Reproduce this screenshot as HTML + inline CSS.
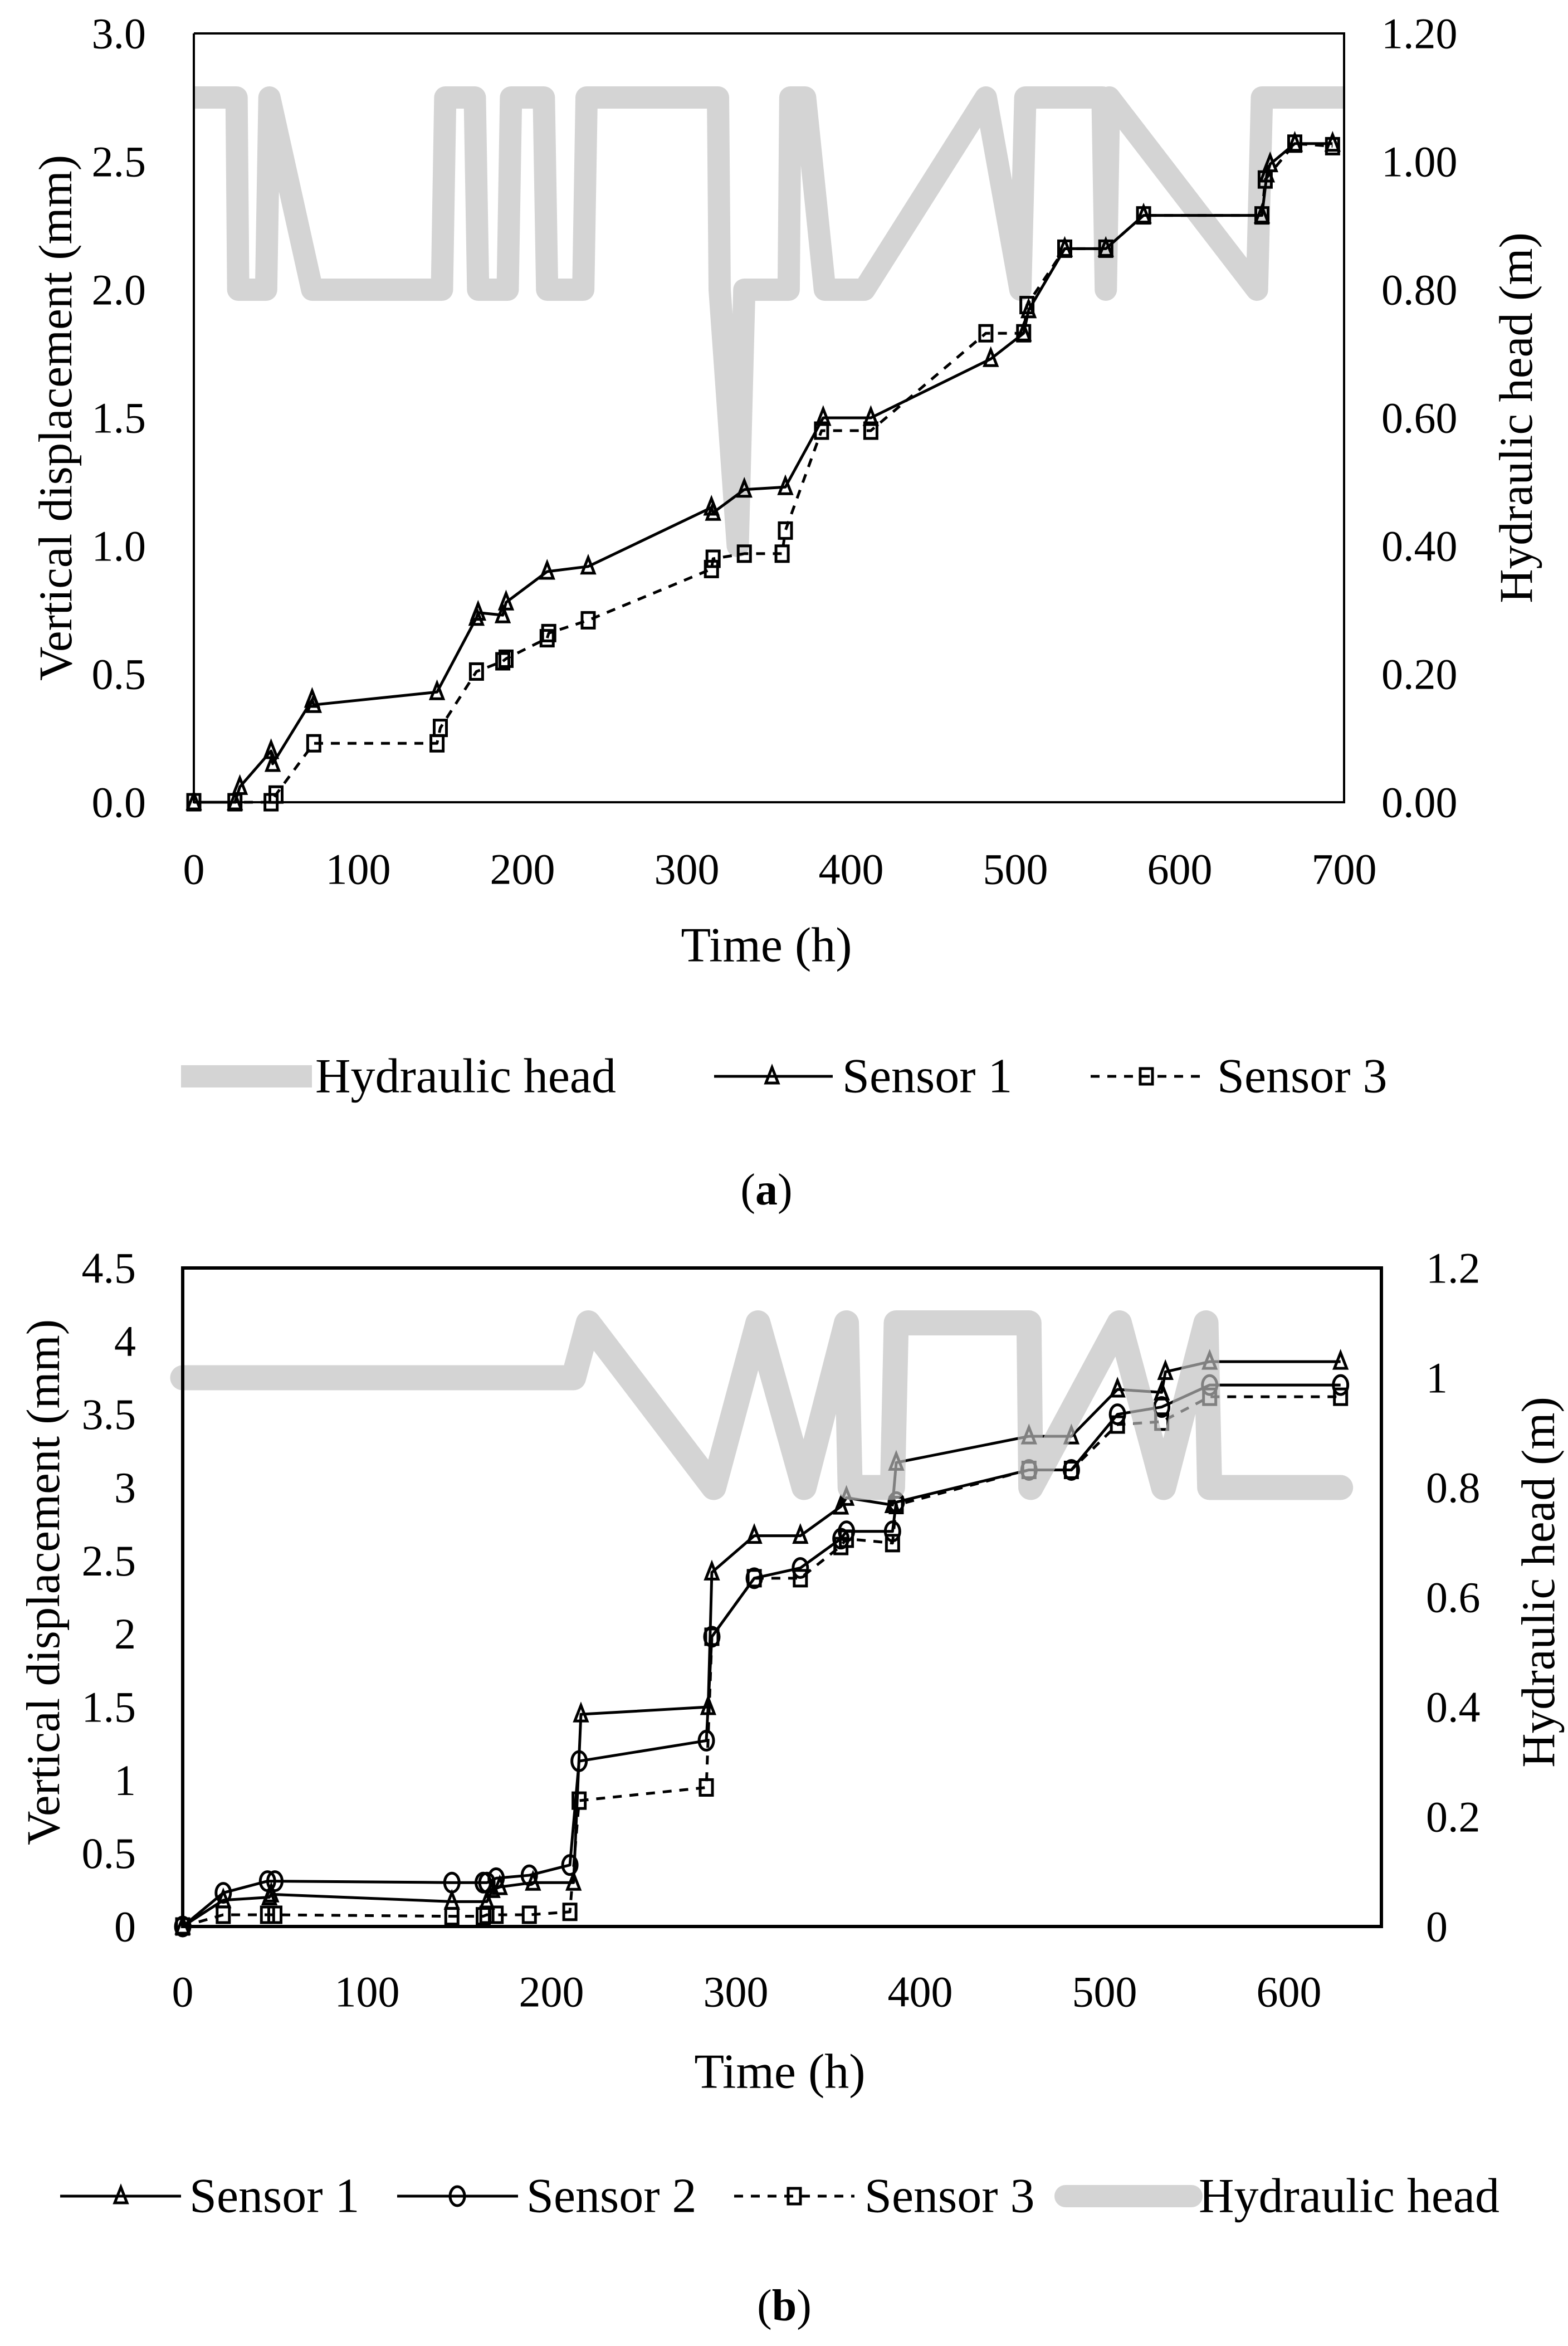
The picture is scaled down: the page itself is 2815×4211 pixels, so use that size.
<!DOCTYPE html>
<html><head><meta charset="utf-8">
<style>
html,body{margin:0;padding:0;background:#fff;}
svg{display:block;font-family:"Liberation Serif",serif;}
</style></head>
<body>
<svg id="fig" width="2815" height="4211" viewBox="0 0 2815 4211" xmlns="http://www.w3.org/2000/svg"></svg>
<script>
// ---------- Chart (a) data ----------
const aTicksX = [0,100,200,300,400,500,600,700];
const aTicksY = ["0.0","0.5","1.0","1.5","2.0","2.5","3.0"];
const aTicksY2 = ["0.00","0.20","0.40","0.60","0.80","1.00","1.20"];
const aS1t = [0,25,28,47,48,72,73,148,172,173,188,190,215,240,315,316,335,360,383,412,485,505,508,530,555,578,650,653,655,670,693];
const aS1v = [0,0,0.06,0.2,0.15,0.4,0.38,0.43,0.72,0.74,0.73,0.78,0.9,0.92,1.15,1.13,1.22,1.23,1.5,1.5,1.73,1.83,1.92,2.16,2.16,2.29,2.29,2.45,2.49,2.57,2.57];
const aS3t = [0,25,47,50,73,148,150,172,188,190,215,216,240,315,316,335,358,360,382,412,482,505,507,530,555,578,650,652,670,693];
const aS3v = [0,0,0,0.03,0.23,0.23,0.29,0.51,0.55,0.56,0.64,0.66,0.71,0.91,0.95,0.97,0.97,1.06,1.45,1.45,1.83,1.83,1.94,2.16,2.16,2.29,2.29,2.43,2.57,2.56];
const aHt = [0,26,27,44,46,72,151,153,171,173,191,193,213,215,237,239,319,320,331,335,362,363,372,384,408,482,503,506,553,555,557,647,650,700];
const aHv = [1.1,1.1,0.8,0.8,1.1,0.8,0.8,1.1,1.1,0.8,0.8,1.1,1.1,0.8,0.8,1.1,1.1,0.8,0.4,0.8,0.8,1.1,1.1,0.8,0.8,1.1,0.8,1.1,1.1,0.8,1.1,0.8,1.1,1.1];

// ---------- Chart (b) data ----------
const bTicksX = [0,100,200,300,400,500,600];
const bTicksY = ["0","0.5","1","1.5","2","2.5","3","3.5","4","4.5"];
const bTicksY2 = ["0","0.2","0.4","0.6","0.8","1","1.2"];
const bS1t = [0,22,47,48,146,165,168,172,190,212,216,285,287,310,335,357,360,385,387,459,482,507,531,533,557,628];
const bS1v = [0,0.18,0.2,0.22,0.17,0.17,0.25,0.27,0.3,0.3,1.45,1.5,2.42,2.67,2.67,2.87,2.93,2.88,3.17,3.35,3.35,3.67,3.65,3.79,3.86,3.86];
const bS2t = [0,22,46,50,146,163,165,170,188,210,215,284,287,310,335,357,360,385,387,459,482,507,531,557,628];
const bS2v = [0,0.23,0.31,0.31,0.3,0.3,0.3,0.33,0.35,0.42,1.13,1.27,1.98,2.38,2.45,2.65,2.7,2.7,2.9,3.12,3.12,3.5,3.55,3.7,3.7];
const bS3t = [0,22,46,50,146,163,165,170,188,210,215,284,287,310,335,357,360,385,387,459,482,507,531,557,628];
const bS3v = [0,0.08,0.08,0.08,0.07,0.07,0.08,0.08,0.08,0.1,0.86,0.95,1.98,2.38,2.38,2.6,2.65,2.62,2.88,3.12,3.12,3.43,3.45,3.62,3.62];
const bHt = [0,212,220,288,312,337,360,362,385,387,459,460,508,532,555,557,628];
const bHv = [1.0,1.0,1.1,0.8,1.1,0.8,1.1,0.8,0.8,1.1,1.1,0.8,1.1,0.8,1.1,0.8,0.8];

const NS = "http://www.w3.org/2000/svg";
const svg = document.getElementById("fig");
function mk(tag, attrs, parent){
  const e = document.createElementNS(NS, tag);
  for (const k in attrs) e.setAttribute(k, attrs[k]);
  (parent||svg).appendChild(e);
  return e;
}
function txt(s, x, y, size, anchor, parent, rot){
  const t = mk("text", {x:x, y:y, "font-size":size, "text-anchor":anchor||"middle", "dominant-baseline":"central", fill:"#000"}, parent);
  if (rot) t.setAttribute("transform", "rotate(" + rot + " " + x + " " + y + ")");
  t.textContent = s;
  return t;
}
function marker(type, x, y, g, color){
  const c = color || "#000";
  if (type === "tri"){
    const p = mk("polygon", {points:(x)+","+(y-16)+" "+(x-11)+","+(y+12)+" "+(x+11)+","+(y+12), fill:"none", stroke:c, "stroke-width":5}, g);
    
    
  } else if (type === "sq"){
    const r = mk("rect", {x:x-11, y:y-14, width:22, height:28, fill:"none", stroke:c, "stroke-width":5}, g);
    
    
  } else {
    const e = mk("ellipse", {cx:x, cy:y, rx:13, ry:17, fill:"none", stroke:c, "stroke-width":5}, g);
    
    
  }
}
function series(ts, vs, sx, sy, dash, mtype, name){
  const g = mk("g", {});
  
  
  const pts = ts.map((t,i)=>sx(t)+","+sy(vs[i])).join(" ");
  const pl = mk("polyline", {points:pts, fill:"none", stroke:"#000", "stroke-width":5, "stroke-dasharray":dash||"none", "stroke-linejoin":"round"}, g);
  
  
  ts.forEach((t,i)=>marker(mtype, sx(t), sy(vs[i]), g));
}
function head(ts, vs, sx, sy2, w, color, op, cap, name){
  const pts = ts.map((t,i)=>sx(t)+","+sy2(vs[i])).join(" ");
  const pl = mk("polyline", {points:pts, fill:"none", stroke:color, "stroke-opacity":op, "stroke-width":w, "stroke-linejoin":"round", "stroke-linecap":cap});
  
  
}

// ===== Chart (a) =====
(function(){
  const L=348, R=2413, T=60, B=1440;
  const sx = t => L + (R-L)*t/700;
  const sy = v => B - (B-T)*v/3.0;
  const sy2 = v => B - (B-T)*v/1.2;
  head(aHt, aHv, sx, sy2, 40, "#d4d4d4", 1, "butt", "hydraulic-head-line-a");
  series(aS3t, aS3v, sx, sy, "16,14", "sq", "sensor-3-series-a");
  series(aS1t, aS1v, sx, sy, null, "tri", "sensor-1-series-a");
  const box = mk("polyline", {points:L+","+T+" "+L+","+B+" "+R+","+B+" "+R+","+T+" "+L+","+T, fill:"none", stroke:"#000", "stroke-width":4});
  
  
  aTicksY.forEach((s,i)=>{ const t=txt(s, 262, sy(i*0.5), 78, "end");
    
     });
  aTicksY2.forEach((s,i)=>{ const t=txt(s, 2480, sy2(i*0.2), 78, "start");
    
     });
  aTicksX.forEach(v=>{ const t=txt(String(v), sx(v), 1560, 78, "middle");
    
     });
  let t;
  t = txt("Vertical displacement (mm)", 100, 750, 85, "middle", null, -90);
   
  t = txt("Hydraulic head (m)", 2722, 750, 85, "middle", null, -90);
   
  t = txt("Time (h)", 1376, 1697, 88, "middle");
   
  // legend
  const ly = 1932;
  const lg = mk("g", {});  
  mk("line", {x1:325, y1:ly, x2:560, y2:ly, stroke:"#d4d4d4", "stroke-width":40}, lg);
  txt("Hydraulic head", 566, ly, 88, "start", lg);
  mk("line", {x1:1282, y1:ly, x2:1495, y2:ly, stroke:"#000", "stroke-width":5}, lg);
  marker("tri", 1386, ly, lg);
  txt("Sensor 1", 1512, ly, 88, "start", lg);
  mk("line", {x1:1958, y1:ly, x2:2166, y2:ly, stroke:"#000", "stroke-width":5, "stroke-dasharray":"16,14"}, lg);
  marker("sq", 2058, ly, lg);
  txt("Sensor 3", 2185, ly, 88, "start", lg);
  const cap = mk("text", {x:1376, y:2136, "font-size":80, "text-anchor":"middle", "dominant-baseline":"central"});
  cap.innerHTML = '(<tspan font-weight="bold">a</tspan>)';
   
})();

// ===== Chart (b) =====
(function(){
  const L=328, R=2480, T=2276, B=3458;
  const X600 = 2314;
  const sx = t => L + (X600-L)*t/600;
  const sy = v => B - (B-T)*v/4.5;
  const sy2 = v => B - (B-T)*v/1.2;
  series(bS3t, bS3v, sx, sy, "16,14", "sq", "sensor-3-series-b");
  series(bS2t, bS2v, sx, sy, null, "circ", "sensor-2-series-b");
  series(bS1t, bS1v, sx, sy, null, "tri", "sensor-1-series-b");
  head(bHt, bHv, sx, sy2, 45, "#bfbfbf", 0.67, "round", "hydraulic-head-line-b");
  const box = mk("rect", {x:L, y:T, width:R-L, height:B-T, fill:"none", stroke:"#000", "stroke-width":6});
  
  
  bTicksY.forEach((s,i)=>{ const t=txt(s, 244, sy(i*0.5), 78, "end");
    
     });
  bTicksY2.forEach((s,i)=>{ const t=txt(s, 2560, sy2(i*0.2), 78, "start");
    
     });
  bTicksX.forEach(v=>{ const t=txt(String(v), sx(v), 3575, 78, "middle");
    
     });
  let t;
  t = txt("Vertical displacement (mm)", 78, 2840, 85, "middle", null, -90);
   
  t = txt("Hydraulic head (m)", 2762, 2840, 85, "middle", null, -90);
   
  t = txt("Time (h)", 1400, 3719, 88, "middle");
   
  const ly = 3942;
  const lg = mk("g", {});  
  mk("line", {x1:108, y1:ly, x2:325, y2:ly, stroke:"#000", "stroke-width":5}, lg);
  marker("tri", 217, ly, lg);
  txt("Sensor 1", 340, ly, 88, "start", lg);
  mk("line", {x1:713, y1:ly, x2:930, y2:ly, stroke:"#000", "stroke-width":5}, lg);
  marker("circ", 821, ly, lg);
  txt("Sensor 2", 945, ly, 88, "start", lg);
  mk("line", {x1:1318, y1:ly, x2:1534, y2:ly, stroke:"#000", "stroke-width":5, "stroke-dasharray":"16,14"}, lg);
  marker("sq", 1426, ly, lg);
  txt("Sensor 3", 1552, ly, 88, "start", lg);
  mk("line", {x1:1913, y1:ly, x2:2139, y2:ly, stroke:"#d4d4d4", "stroke-width":40, "stroke-linecap":"round"}, lg);
  txt("Hydraulic head", 2152, ly, 88, "start", lg);
  const cap = mk("text", {x:1408, y:4139, "font-size":80, "text-anchor":"middle", "dominant-baseline":"central"});
  cap.innerHTML = '(<tspan font-weight="bold">b</tspan>)';
   
})();
</script>
</body></html>
